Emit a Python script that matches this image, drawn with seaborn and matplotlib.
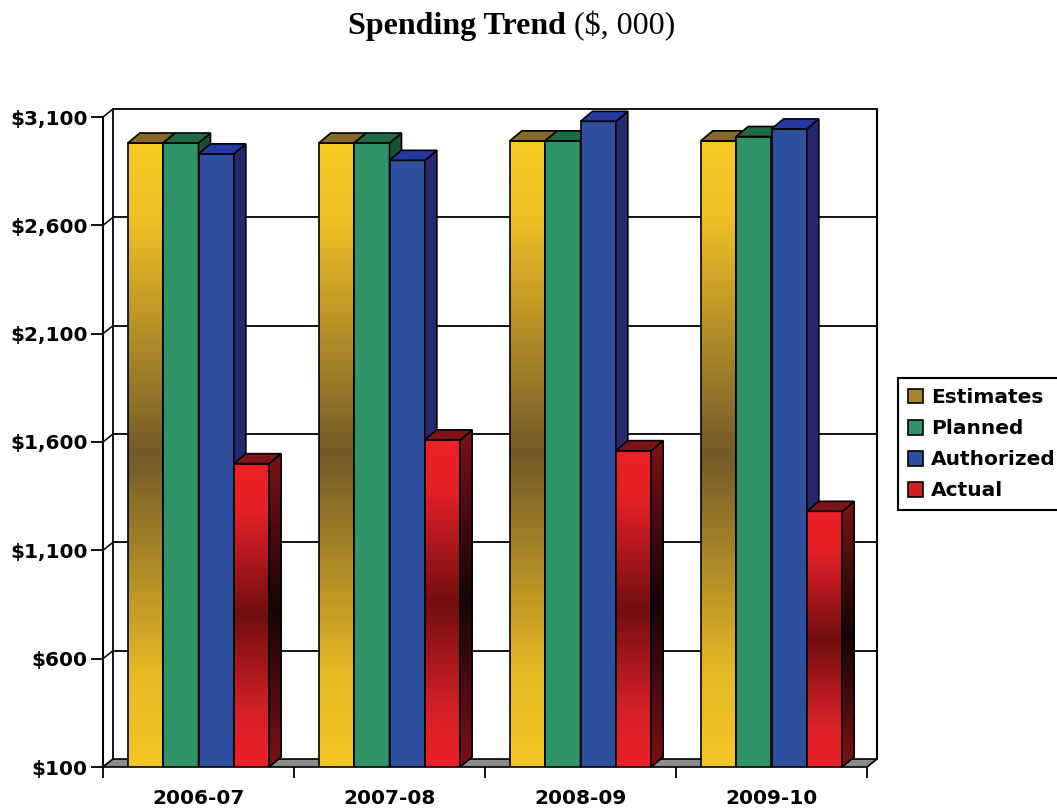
import numpy as np
import pandas as pd
import matplotlib
matplotlib.use('Agg')
import matplotlib.pyplot as plt
import seaborn as sns
from matplotlib.patches import Polygon, Patch
from matplotlib.colors import LinearSegmentedColormap

# ---------------- data ----------------
years = ['2006-07', '2007-08', '2008-09', '2009-10']
series = ['Estimates', 'Planned', 'Authorized', 'Actual']
estimates = [2980, 2980, 2990, 2990]
planned = [2980, 2980, 2990, 3010]
authorized = [2930, 2900, 3080, 3045]
actual = [1500, 1610, 1560, 1280]
y_ticks = [100, 600, 1100, 1600, 2100, 2600, 3100]
y_tick_labels = ['$100', '$600', '$1,100', '$1,600', '$2,100', '$2,600', '$3,100']
title_bold = 'Spending Trend'
title_regular = ' ($, 000)'

df = pd.DataFrame({
    'Year': years * 4,
    'Series': [s for s in series for _ in years],
    'Value': estimates + planned + authorized + actual,
})

# ---------------- style ----------------
sns.set_theme(style='white')
plt.rcParams['font.family'] = ['DejaVu Sans']
plt.rcParams['text.color'] = 'black'

front_colors = {'Estimates': '#C9A030', 'Planned': '#2F9467',
                'Authorized': '#2F4F9F', 'Actual': '#EE2026'}
top_colors = {'Estimates': '#86692A', 'Planned': '#1F6B45',
              'Authorized': '#2539A0', 'Actual': '#7E1416'}
side_colors = {'Estimates': '#6E5624', 'Planned': '#1B5034',
               'Authorized': '#262870', 'Actual': '#7A1012'}
legend_colors = {'Estimates': '#A8852C', 'Planned': '#2F9467',
                 'Authorized': '#2F4F9F', 'Actual': '#D51E24'}
cmap_est = LinearSegmentedColormap.from_list('est', [
    (0.0, '#F6CA22'), (0.12, '#F0C026'), (0.5, '#735A28'),
    (0.85, '#E6B826'), (1.0, '#F4C623')])
cmap_act = LinearSegmentedColormap.from_list('act', [
    (0.0, '#EE2026'), (0.15, '#E62027'), (0.5, '#720E10'),
    (0.83, '#D82027'), (1.0, '#EC2028')])
cmap_act_side = LinearSegmentedColormap.from_list('acts', [
    (0.0, '#7C1214'), (0.5, '#160506'), (1.0, '#7C1214')])
cmap_est_side = LinearSegmentedColormap.from_list('ests', [
    (0.0, '#9A7A22'), (0.5, '#4A3A1A'), (1.0, '#9A7A22')])

W, H = 1057, 809
fig = plt.figure(figsize=(W / 100, H / 100), dpi=100)
L, R, T, B = 103, 867, 117, 767
ax = fig.add_axes([L / W, 1 - B / H, (R - L) / W, (B - T) / H])

sns.barplot(data=df, x='Year', y='Value', hue='Series', order=years,
            hue_order=series, palette=front_colors, saturation=1,
            width=0.74, edgecolor='black', linewidth=1.2, legend=False, ax=ax)

ax.set_xlim(-0.5, 3.5)
ax.set_ylim(100, 3100)
ax.patch.set_alpha(0)
for s in ax.spines.values():
    s.set_visible(False)

px_x = 4.0 / (R - L)
px_y = 3000.0 / (B - T)
wdx, wdy = 10 * px_x, 8 * px_y     # wall depth
bdx, bdy = 12 * px_x, 10 * px_y    # bar depth
lw = 1.2

# floor
floor = Polygon([(-0.5, 100), (3.5, 100), (3.5 + wdx, 100 + wdy), (-0.5 + wdx, 100 + wdy)],
                closed=True, facecolor='#8C8C8C', edgecolor='black', lw=lw,
                zorder=1, clip_on=False)
ax.add_patch(floor)

# back wall and left wall
for t in y_ticks[1:]:
    ax.plot([-0.5 + wdx, 3.5 + wdx], [t + wdy, t + wdy], color='black', lw=1.3,
            zorder=0.5, clip_on=False)
for t in y_ticks:
    ax.plot([-0.5, -0.5 + wdx], [t, t + wdy], color='black', lw=1.1,
            zorder=0.6, clip_on=False)
ax.plot([-0.5 + wdx, -0.5 + wdx], [100 + wdy, 3100 + wdy], color='black', lw=1.3,
        zorder=0.6, clip_on=False)
ax.plot([3.5 + wdx, 3.5 + wdx], [100 + wdy, 3100 + wdy], color='black', lw=1.5,
        zorder=0.6, clip_on=False)
ax.plot([-0.5, -0.5], [100, 3100], color='black', lw=1.5, zorder=0.7, clip_on=False)

# bars -> 3D
bars = []
for s_name, cont in zip(series, ax.containers):
    for p in cont.patches:
        bars.append((p.get_x(), s_name, p))
bars.sort(key=lambda b: b[0])
grad = np.linspace(0, 1, 256).reshape(-1, 1)
for k, (_, s_name, p) in enumerate(bars):
    z = 2 + k * 0.1
    top = p.get_y() + p.get_height()
    p.set_y(100)
    p.set_height(top - 100)
    x0 = p.get_x()
    x1 = x0 + p.get_width()
    p.set_zorder(z + 0.01)
    if s_name in ('Estimates', 'Actual'):
        cm = cmap_est if s_name == 'Estimates' else cmap_act
        p.set_facecolor('none')
        im = ax.imshow(grad, cmap=cm, extent=[x0, x1, 100, top], aspect='auto',
                       origin='upper', zorder=z, interpolation='bilinear')
        im.set_clip_path(p)
    side = Polygon([(x1, 100), (x1, top), (x1 + bdx, top + bdy), (x1 + bdx, 100 + bdy)],
                   closed=True, facecolor=side_colors[s_name], edgecolor='black',
                   lw=lw, zorder=z + 0.03, clip_on=False)
    ax.add_patch(side)
    if s_name in ('Estimates', 'Actual'):
        side.set_facecolor('none')
        cm = cmap_est_side if s_name == 'Estimates' else cmap_act_side
        im2 = ax.imshow(grad, cmap=cm, extent=[x1, x1 + bdx, 100, top + bdy],
                        aspect='auto', origin='upper', zorder=z + 0.02,
                        interpolation='bilinear')
        im2.set_clip_path(side)
    topf = Polygon([(x0, top), (x1, top), (x1 + bdx, top + bdy), (x0 + bdx, top + bdy)],
                   closed=True, facecolor=top_colors[s_name], edgecolor='black',
                   lw=lw, zorder=z + 0.04, clip_on=False)
    ax.add_patch(topf)

ax.set_xlim(-0.5, 3.5)
ax.set_ylim(100, 3100)

# ticks
ax.set_yticks(y_ticks, y_tick_labels)
ax.set_xticks(range(len(years)), years)
ax.set_xticks([-0.5, 0.5, 1.5, 2.5, 3.5], minor=True)
ax.tick_params(axis='y', left=True, length=9, width=1.3, color='black', pad=2,
               labelsize=14.5, labelcolor='black')
ax.tick_params(axis='x', which='major', bottom=True, length=0, pad=16, labelsize=14.5,
               labelcolor='black')
ax.tick_params(axis='x', which='minor', bottom=True, length=8, width=1.3, color='black')
for lab in ax.get_xticklabels() + ax.get_yticklabels():
    lab.set_fontweight('bold')
ax.set_xlabel('')
ax.set_ylabel('')

# legend
handles = [Patch(facecolor=legend_colors[s], edgecolor='black', lw=1.2) for s in series]
leg = fig.legend(handles, series, loc='upper left', bbox_to_anchor=(898 / W, 1 - 378 / H),
                 frameon=True, fancybox=False, edgecolor='black', framealpha=1,
                 prop={'weight': 'bold', 'size': 14.5}, handlelength=0.75,
                 handleheight=0.75, handletextpad=0.4, labelspacing=0.6,
                 borderpad=0.5, borderaxespad=0, labelcolor='black')
leg.get_frame().set_linewidth(1.5)

# title (bold part + regular part)
renderer = fig.canvas.get_renderer()
ty = 1 - 34 / H
t1 = fig.text(0, ty, title_bold, fontfamily='Liberation Serif', fontweight='bold',
              fontsize=23, va='baseline', ha='left', color='black')
t2 = fig.text(0, ty, title_regular, fontfamily='Liberation Serif', fontweight='normal',
              fontsize=23, va='baseline', ha='left', color='black')
w1 = t1.get_window_extent(renderer).width
w2 = t2.get_window_extent(renderer).width
start = 512 - (w1 + w2) / 2
t1.set_x(start / W)
t2.set_x((start + w1) / W)

fig.savefig('out.png', dpi=100)
